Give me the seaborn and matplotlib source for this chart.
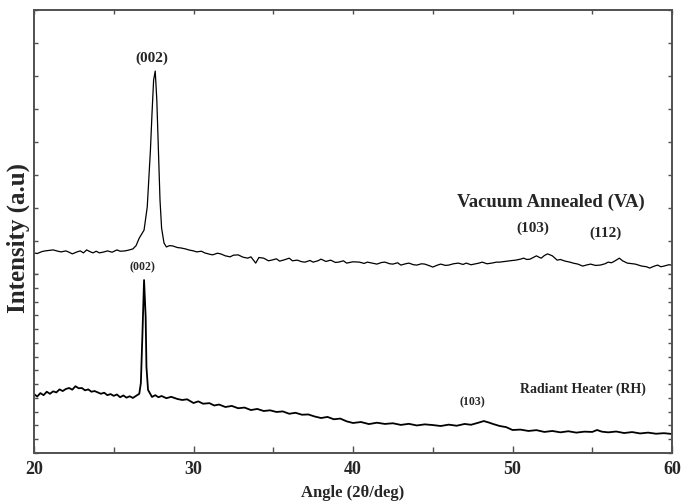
import numpy as np
import pandas as pd
import matplotlib
matplotlib.use("Agg")
import matplotlib.pyplot as plt
import seaborn as sns

# ---- data (2theta in degrees, intensity in arbitrary units) ----
va_angle = [20.0, 20.2, 20.5, 20.7, 21.0, 21.2, 21.5, 21.7, 22.0, 22.2, 22.4, 22.7, 22.9, 23.1,
            23.3, 23.5, 23.7, 23.9, 24.1, 24.4, 24.6, 24.9, 25.2, 25.4, 25.7, 25.9, 26.2, 26.4,
            26.6, 26.9, 27.1, 27.3, 27.4, 27.5, 27.6, 27.7, 27.8, 27.9, 28.0, 28.15, 28.3, 28.5,
            28.7, 29.0, 29.2, 29.5, 29.7, 30.0, 30.2, 30.5, 30.7, 31.0, 31.2, 31.5, 31.7, 32.0,
            32.3, 32.5, 32.8, 33.1, 33.4, 33.6, 33.9, 34.1, 34.4, 34.7, 34.9, 35.2, 35.4, 35.7,
            36.0, 36.2, 36.5, 36.8, 37.0, 37.3, 37.5, 37.8, 38.0, 38.3, 38.6, 38.9, 39.1, 39.4,
            39.6, 40.0, 40.4, 40.7, 40.9, 41.2, 41.5, 41.8, 42.0, 42.3, 42.5, 42.8, 43.0, 43.3,
            43.5, 43.8, 44.0, 44.3, 44.5, 44.8, 45.0, 45.3, 45.5, 45.8, 46.0, 46.3, 46.6, 46.9,
            47.1, 47.4, 47.6, 47.9, 48.1, 48.4, 48.7, 49.0, 49.2, 49.5, 49.7, 50.0, 50.2, 50.5,
            50.7, 50.9, 51.1, 51.3, 51.5, 51.7, 51.8, 52.0, 52.2, 52.4, 52.5, 52.8, 53.0, 53.3,
            53.6, 53.8, 54.1, 54.4, 54.7, 54.9, 55.2, 55.5, 55.8, 56.0, 56.2, 56.4, 56.7, 56.9,
            57.2, 57.5, 57.7, 57.9, 58.1, 58.4, 58.6, 58.9, 59.1, 59.3, 59.5, 59.8, 60.0]
va_intensity = [0.64, 0.62, 0.68, 0.70, 0.72, 0.73, 0.69, 0.67, 0.70, 0.66, 0.61, 0.67, 0.70, 0.64,
                0.73, 0.68, 0.64, 0.69, 0.64, 0.67, 0.70, 0.66, 0.73, 0.69, 0.70, 0.72, 0.76, 0.86,
                1.09, 1.33, 2.03, 3.76, 4.88, 5.88, 6.15, 5.27, 3.76, 2.24, 1.39, 0.94, 0.82, 0.86,
                0.85, 0.80, 0.79, 0.76, 0.73, 0.70, 0.67, 0.69, 0.64, 0.60, 0.58, 0.63, 0.61, 0.55,
                0.52, 0.57, 0.58, 0.51, 0.48, 0.52, 0.33, 0.50, 0.48, 0.40, 0.42, 0.46, 0.39, 0.43,
                0.48, 0.40, 0.42, 0.37, 0.36, 0.41, 0.36, 0.40, 0.45, 0.38, 0.42, 0.35, 0.36, 0.40,
                0.33, 0.37, 0.36, 0.32, 0.36, 0.33, 0.30, 0.35, 0.36, 0.31, 0.30, 0.34, 0.27, 0.31,
                0.33, 0.28, 0.27, 0.31, 0.30, 0.25, 0.21, 0.27, 0.30, 0.26, 0.27, 0.31, 0.33, 0.29,
                0.33, 0.28, 0.30, 0.33, 0.36, 0.31, 0.33, 0.36, 0.36, 0.38, 0.39, 0.41, 0.42, 0.45,
                0.48, 0.44, 0.45, 0.50, 0.55, 0.50, 0.48, 0.56, 0.61, 0.57, 0.55, 0.42, 0.44, 0.39,
                0.36, 0.33, 0.30, 0.24, 0.28, 0.30, 0.26, 0.27, 0.31, 0.36, 0.34, 0.39, 0.48, 0.40,
                0.33, 0.31, 0.30, 0.27, 0.24, 0.22, 0.18, 0.24, 0.27, 0.22, 0.24, 0.28, 0.27]

rh_angle = [20.0, 20.2, 20.4, 20.6, 20.8, 21.0, 21.2, 21.4, 21.6, 21.8, 22.0, 22.2, 22.4, 22.6,
            22.8, 23.0, 23.2, 23.4, 23.6, 23.8, 24.0, 24.2, 24.4, 24.6, 24.8, 25.0, 25.2, 25.4,
            25.6, 25.8, 26.0, 26.2, 26.4, 26.6, 26.7, 26.8, 26.9, 27.0, 27.05, 27.15, 27.4, 27.6,
            27.8, 28.0, 28.3, 28.6, 29.0, 29.3, 29.6, 30.0, 30.3, 30.6, 31.0, 31.3, 31.6, 32.0,
            32.4, 32.8, 33.2, 33.6, 34.0, 34.4, 34.8, 35.2, 35.6, 36.0, 36.4, 36.8, 37.2, 37.6,
            38.0, 38.4, 38.8, 39.2, 39.6, 40.0, 40.5, 41.0, 41.5, 42.0, 42.5, 43.0, 43.5, 44.0,
            44.5, 45.0, 45.5, 46.0, 46.5, 47.0, 47.4, 47.8, 48.2, 48.5, 48.8, 49.2, 49.6, 50.0,
            50.5, 51.0, 51.5, 52.0, 52.5, 53.0, 53.5, 54.0, 54.5, 55.0, 55.3, 55.6, 56.0, 56.5,
            57.0, 57.5, 58.0, 58.5, 59.0, 59.5, 60.0]
rh_intensity = [4.28, 4.10, 4.35, 4.20, 4.45, 4.30, 4.48, 4.40, 4.62, 4.50, 4.65, 4.72, 4.60, 4.85,
                4.70, 4.72, 4.55, 4.62, 4.45, 4.50, 4.40, 4.30, 4.38, 4.20, 4.28, 4.15, 4.25, 4.05,
                4.18, 4.02, 4.12, 4.00, 4.15, 4.30, 5.08, 8.70, 12.56, 9.90, 6.25, 4.58, 4.07, 4.20,
                4.05, 4.14, 3.98, 4.08, 3.92, 3.85, 3.90, 3.63, 3.75, 3.58, 3.62, 3.45, 3.52, 3.34,
                3.42, 3.25, 3.30, 3.12, 3.20, 3.05, 3.10, 2.98, 3.02, 2.85, 2.92, 2.78, 2.80, 2.65,
                2.54, 2.62, 2.45, 2.50, 2.30, 2.18, 2.25, 2.10, 2.20, 2.11, 2.16, 2.04, 2.12, 2.00,
                2.08, 2.03, 1.96, 2.06, 1.98, 2.11, 2.05, 2.18, 2.32, 2.22, 2.10, 1.96, 1.88, 1.67,
                1.70, 1.60, 1.66, 1.53, 1.60, 1.50, 1.58, 1.48, 1.55, 1.53, 1.67, 1.55, 1.50, 1.56,
                1.45, 1.52, 1.42, 1.48, 1.40, 1.44, 1.38]

va = pd.DataFrame({"angle": va_angle, "intensity": va_intensity})
rh = pd.DataFrame({"angle": rh_angle, "intensity": rh_intensity})

sns.set_style("ticks")
plt.rcParams["font.family"] = ["Liberation Serif", "DejaVu Serif"]
plt.rcParams["font.weight"] = "bold"

W, H = 681, 503
fig = plt.figure(figsize=(W / 100, H / 100), dpi=100)
left = 34 / W
width = (672 - 34) / W
ax_top = fig.add_axes([left, (H - 274) / H, width, (274 - 10) / H])
ax_bot = fig.add_axes([left, (H - 453) / H, width, (453 - 274) / H], sharex=ax_top)

spine_c = "#505050"
for ax in (ax_top, ax_bot):
    for s in ax.spines.values():
        s.set_color(spine_c)
        s.set_linewidth(1.4)
    ax.set_xlim(20, 60)

sns.lineplot(data=va, x="angle", y="intensity", ax=ax_top, color="black", lw=0.9, sort=False)
sns.lineplot(data=rh, x="angle", y="intensity", ax=ax_bot, color="black", lw=1.3, sort=False)

# top panel
ax_top.set_ylim(0, 8)
ax_top.spines["bottom"].set_visible(False)
ax_top.set_yticks(range(0, 9))
ax_top.tick_params(axis="y", which="both", direction="in", left=True, right=True,
                   labelleft=False, length=3, width=1, color=spine_c)
ax_top.tick_params(axis="x", which="both", direction="in", top=True, bottom=False,
                   labelbottom=False, labeltop=False, length=3, width=1, color=spine_c)
ax_top.set_xticks([20 + 40 * k / 7 for k in range(1, 7)])
ax_top.set_xlabel("")
ax_top.set_ylabel("")

# bottom panel
ax_bot.set_ylim(0, 13)
ax_bot.spines["top"].set_visible(False)
ax_bot.set_yticks(range(0, 14))
ax_bot.tick_params(axis="y", which="both", direction="in", left=True, right=True,
                   labelleft=False, length=3, width=1, color=spine_c)
ax_bot.xaxis.set_major_locator(matplotlib.ticker.MultipleLocator(10))
ax_bot.xaxis.set_minor_locator(matplotlib.ticker.MultipleLocator(5))
ax_bot.tick_params(axis="x", which="major", direction="in", top=False, bottom=True,
                   labelbottom=True, length=5, width=1, color=spine_c, labelsize=13, pad=6)
ax_bot.tick_params(axis="x", which="minor", direction="in", top=False, bottom=True,
                   length=4, width=1, color=spine_c)
for lab in ax_bot.get_xticklabels():
    lab.set_fontweight("bold")
ax_bot.set_ylabel("")
ax_bot.set_xlabel("Angle (2θ/deg)", fontsize=12, fontweight="bold", labelpad=5)

# annotations
ax_top.text(27.4, 6.55, "(002)", ha="center", va="center", fontsize=11, fontweight="bold")
ax_top.text(52.4, 2.17, "Vacuum Annealed (VA)", ha="center", va="center", fontsize=13.5, fontweight="bold")
ax_top.text(51.3, 1.38, "(103)", ha="center", va="center", fontsize=11, fontweight="bold")
ax_top.text(55.8, 1.23, "(112)", ha="center", va="center", fontsize=11, fontweight="bold")
ax_bot.text(26.8, 13.5, "(002)", ha="center", va="center", fontsize=8.5, fontweight="bold", clip_on=False)
ax_bot.text(54.4, 4.65, "Radiant Heater (RH)", ha="center", va="center", fontsize=10, fontweight="bold")
ax_bot.text(47.5, 3.7, "(103)", ha="center", va="center", fontsize=8.5, fontweight="bold")

fig.text(18 / W, 1 - 238 / H, "Intensity (a.u)", rotation=90, ha="center", va="center",
         fontsize=18, fontweight="bold")

fig.savefig("out.png", dpi=100)
